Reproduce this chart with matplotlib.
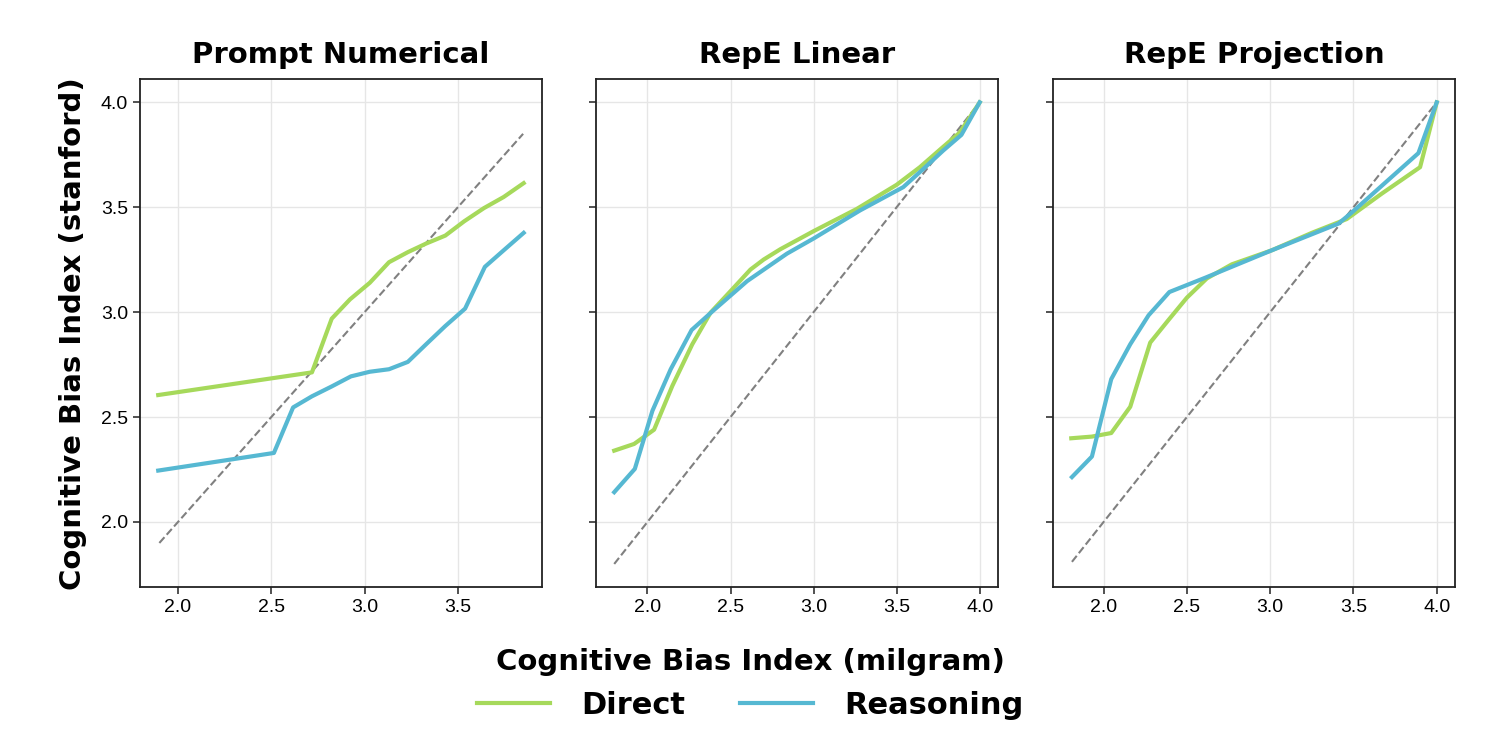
import numpy as np
import matplotlib
matplotlib.use("Agg")
import matplotlib.pyplot as plt
from matplotlib.lines import Line2D

titles = ["Prompt Numerical", "RepE Linear", "RepE Projection"]

# panel 1: Prompt Numerical
p1_direct_x = [1.894, 2.718, 2.824, 2.922, 3.028, 3.131, 3.232, 3.33, 3.433, 3.534, 3.64, 3.746, 3.853]
p1_direct_y = [2.605, 2.713, 2.969, 3.061, 3.140, 3.238, 3.286, 3.327, 3.365, 3.433, 3.496, 3.549, 3.615]
p1_reason_x = [1.894, 2.514, 2.617, 2.718, 2.824, 2.927, 3.028, 3.131, 3.232, 3.33, 3.433, 3.539, 3.645, 3.746, 3.853]
p1_reason_y = [2.245, 2.329, 2.546, 2.599, 2.646, 2.694, 2.716, 2.728, 2.763, 2.847, 2.934, 3.017, 3.216, 3.295, 3.378]
p1_diag = [1.9, 3.85]

# panel 2: RepE Linear
p2_direct_x = [1.8, 1.92, 2.04, 2.15, 2.27, 2.38, 2.5, 2.62, 2.70, 2.80, 3.0, 3.26, 3.5, 3.64, 3.76, 3.88, 4.0]
p2_direct_y = [2.340, 2.372, 2.440, 2.649, 2.847, 2.998, 3.10, 3.203, 3.251, 3.30, 3.386, 3.492, 3.607, 3.691, 3.774, 3.856, 4.0]
p2_reason_x = [1.8, 1.924, 2.03, 2.14, 2.266, 2.40, 2.60, 2.84, 3.0, 3.28, 3.54, 3.66, 3.78, 3.89, 4.0]
p2_reason_y = [2.142, 2.253, 2.530, 2.728, 2.915, 3.010, 3.148, 3.279, 3.351, 3.485, 3.596, 3.682, 3.770, 3.845, 4.0]
p2_diag = [1.8, 4.0]

# panel 3: RepE Projection
p3_direct_x = [1.806, 1.93, 2.046, 2.16, 2.28, 2.39, 2.50, 2.62, 2.77, 3.01, 3.25, 3.46, 3.67, 3.90, 4.0]
p3_direct_y = [2.399, 2.407, 2.424, 2.549, 2.855, 2.963, 3.069, 3.161, 3.228, 3.295, 3.378, 3.444, 3.565, 3.691, 4.0]
p3_reason_x = [1.81, 1.93, 2.046, 2.16, 2.27, 2.395, 2.61, 3.01, 3.41, 3.49, 3.89, 4.0]
p3_reason_y = [2.214, 2.312, 2.681, 2.847, 2.985, 3.096, 3.164, 3.295, 3.422, 3.475, 3.758, 4.0]
p3_diag = [1.81, 4.0]

panels = [
    (p1_direct_x, p1_direct_y, p1_reason_x, p1_reason_y, p1_diag),
    (p2_direct_x, p2_direct_y, p2_reason_x, p2_reason_y, p2_diag),
    (p3_direct_x, p3_direct_y, p3_reason_x, p3_reason_y, p3_diag),
]

green = "#a6d95b"
blue = "#56b8d2"
head_font = ["DejaVu Sans"]
tick_font = ["Liberation Sans", "DejaVu Sans"]

fig = plt.figure(figsize=(15, 7.5), dpi=100)
lefts = [0.0933, 0.3973, 0.702]
axes = []
for i, left in enumerate(lefts):
    if i == 0:
        ax = fig.add_axes([left, 0.2173, 0.268, 0.677])
    else:
        ax = fig.add_axes([left, 0.2173, 0.268, 0.677], sharey=axes[0])
    axes.append(ax)

for i, ax in enumerate(axes):
    dx, dy, rx, ry, diag = panels[i]
    ax.plot(diag, diag, ls="--", color="gray", lw=1.5, zorder=2)
    ax.plot(dx, dy, color=green, lw=3, zorder=3)
    ax.plot(rx, ry, color=blue, lw=3, zorder=4)
    ax.set_title(titles[i], fontsize=21, fontweight="bold", family=head_font, pad=12)
    ax.grid(True, color="#e6e6e6", lw=1)
    ax.set_axisbelow(True)
    ax.set_yticks([2.0, 2.5, 3.0, 3.5, 4.0])
    ax.tick_params(labelsize=14, length=5, width=1.2, color="#333333")
    for lab in ax.get_xticklabels() + ax.get_yticklabels():
        lab.set_family(tick_font)
    for s in ax.spines.values():
        s.set_color("#222222")
        s.set_linewidth(1.3)
    if i > 0:
        ax.tick_params(labelleft=False)

axes[0].set_ylabel("Cognitive Bias Index (stanford)", fontsize=21, fontweight="bold",
                   family=head_font, labelpad=10)
fig.text(0.5, 0.117, "Cognitive Bias Index (milgram)", ha="center", va="center",
         fontsize=21, fontweight="bold", family=head_font)

handles = [Line2D([], [], color=green, lw=3), Line2D([], [], color=blue, lw=3)]
fig.legend(handles, ["Direct", "Reasoning"], loc="center", bbox_to_anchor=(0.5, 0.06),
           ncol=2, frameon=False, handlelength=2.4, handletextpad=1.0, columnspacing=1.8,
           prop={"family": head_font, "weight": "bold", "size": 22})

fig.savefig("out.png", dpi=100)
